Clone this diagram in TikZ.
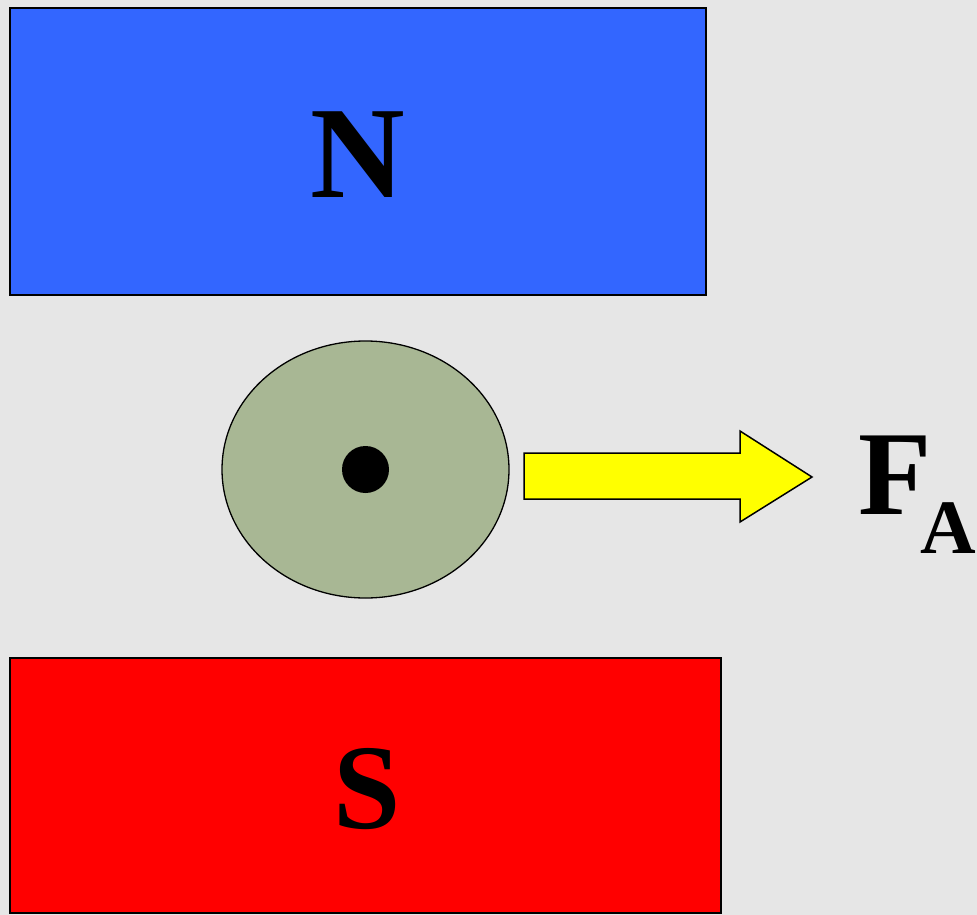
\documentclass[tikz,border=0pt]{standalone}
\usepackage{fontspec}
\setmainfont{Liberation Serif}
\usetikzlibrary{shapes.geometric}
\definecolor{bggray}{HTML}{E6E6E6}
\definecolor{nblue}{HTML}{3366FF}
\definecolor{sred}{HTML}{FF0000}
\definecolor{wiregreen}{HTML}{A8B794}
\definecolor{arrowyellow}{HTML}{FFFF00}
\tikzset{
  magnet/.style={draw=black, line width=2pt},
  pole/.style={font=\bfseries, text=black, inner sep=0pt},
}
\begin{document}
\begin{tikzpicture}[x=1pt,y=-1pt]
\fill[bggray] (0,0) rectangle (977,915);
\useasboundingbox (0,0) rectangle (977,915);
% magnets
\draw[magnet, fill=nblue] (10,8) rectangle (706,295);
\node[pole, font=\bfseries\fontsize{131}{131}\selectfont] (N) at (358,155) {N};
\draw[magnet, fill=sred] (10,658) rectangle (721,913);
\node[pole, font=\bfseries\fontsize{121}{121}\selectfont] (S) at (367,789) {S};
% conductor
\node[ellipse, draw=black, line width=1.3pt, fill=wiregreen, minimum width=287pt, minimum height=257pt, inner sep=0pt] (wire) at (365.5,469.5) {};
\node[circle, fill=black, minimum size=47pt, inner sep=0pt] (dot) at (wire.center) {};
% force arrow
\draw[line width=1.5pt, fill=arrowyellow, line join=miter]
  (524,453) -- (740,453) -- (740,431) -- (812,477) -- (740,522) -- (740,499) -- (524,499) -- cycle;
% label
\node[anchor=base west, inner sep=0pt, font=\bfseries\fontsize{120}{120}\selectfont] (F) at (858,514) {F};
\node[anchor=base west, inner sep=0pt, font=\bfseries\fontsize{77}{77}\selectfont] (A) at (920,553) {A};
\end{tikzpicture}
\end{document}
